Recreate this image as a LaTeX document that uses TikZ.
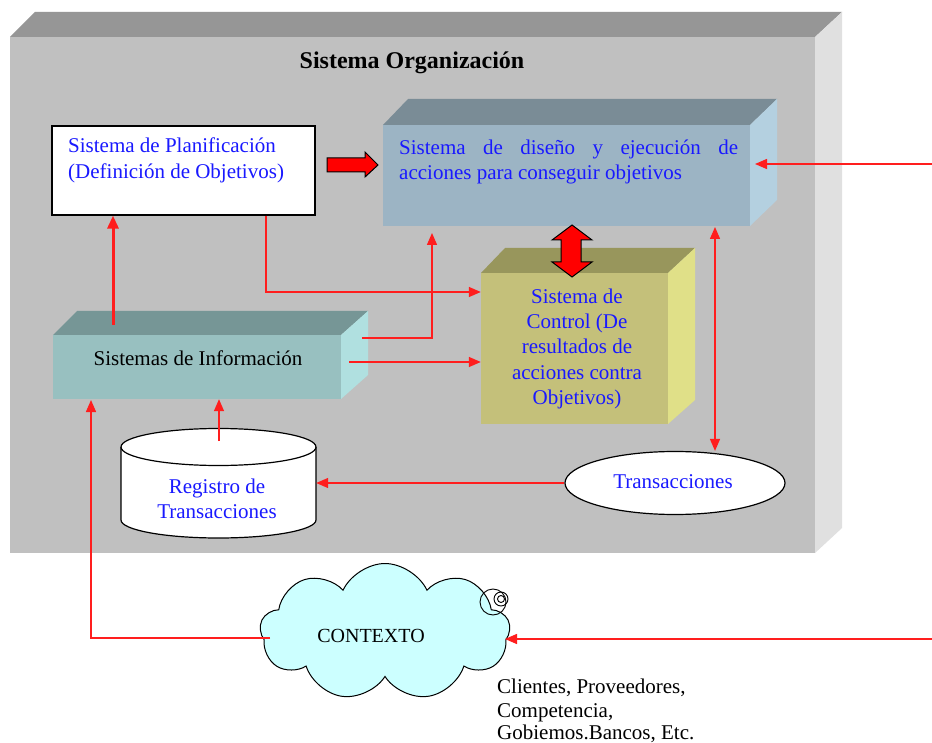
\documentclass[tikz,border=0pt]{standalone}
\usepackage{fontspec}
\setmainfont{Liberation Serif}
\usetikzlibrary{arrows.meta,shapes.symbols,shapes.geometric}
\definecolor{grayfront}{RGB}{192,192,192}
\definecolor{graytop}{RGB}{150,150,150}
\definecolor{grayside}{RGB}{224,224,224}
\definecolor{disfront}{RGB}{156,180,196}
\definecolor{distop}{RGB}{122,140,150}
\definecolor{disside}{RGB}{180,208,224}
\definecolor{ctlfront}{RGB}{196,192,122}
\definecolor{ctltop}{RGB}{152,150,92}
\definecolor{ctlside}{RGB}{224,224,136}
\definecolor{inffront}{RGB}{152,192,192}
\definecolor{inftop}{RGB}{118,150,150}
\definecolor{infside}{RGB}{176,224,224}
\definecolor{cloudc}{RGB}{204,255,255}
\definecolor{lred}{RGB}{255,30,30}
\definecolor{tblue}{RGB}{25,25,255}
\begin{document}
\begin{tikzpicture}[x=1pt,y=-1pt,
  conn/.style={draw=lred,line width=1.4pt,-{Triangle[length=12pt,width=10pt]}},
  thickconn/.style={draw=lred,line width=3pt,-{Triangle[length=13pt,width=11pt]}},
  bconn/.style={draw=lred,line width=1.4pt,{Triangle[length=12pt,width=10pt]}-{Triangle[length=12pt,width=10pt]}},
  blk/.style={fill=red,draw=black,line width=1pt,line join=miter},
  btxt/.style={text=tblue,font=\fontsize{21}{25}\selectfont,inner sep=0pt,anchor=base},
  ktxt/.style={text=black,font=\fontsize{21}{25}\selectfont,inner sep=0pt,anchor=base},
  frontface/.style={inner sep=0pt,draw=none},
]
\useasboundingbox (0,0) rectangle (932,743);
\fill[white] (0,0) rectangle (932,743);

% ---- system box
\fill[grayfront] (10,37) rectangle (815,553);
\fill[graytop] (10,37) -- (35,12) -- (842,12) -- (815,37) -- cycle;
\fill[grayside] (815,37) -- (842,12) -- (842,528) -- (815,553) -- cycle;
\node[font=\bfseries\fontsize{24}{28}\selectfont, anchor=base, inner sep=0pt] (title) at (412,69) {Sistema Organización};

% ---- planificacion
\node[draw=black, line width=1.2pt, fill=white, minimum width=263pt, minimum height=89pt, inner sep=0pt] (plan) at (183.5,170.5) {};
\node[btxt, anchor=base west] (plan1) at (68,153) {Sistema de Planificación};
\node[btxt, anchor=base west] (plan2) at (68,179) {(Definición de Objetivos)};

% ---- diseno
\fill[distop] (383,125) -- (408,99) -- (777,99) -- (750,125) -- cycle;
\fill[disside] (750,125) -- (777,99) -- (777,200) -- (750,226) -- cycle;
\node[frontface, fill=disfront, minimum width=367pt, minimum height=101pt] (dis) at (566.5,175.5) {};
\node[btxt, anchor=base west] (dis1) at (399,155) {\makebox[339pt][s]{Sistema de diseño y ejecución de}};
\node[btxt, anchor=base west] (dis2) at (399,180) {acciones para conseguir objetivos};

% ---- control
\fill[ctltop] (481,273) -- (505,248) -- (695,248) -- (668,273) -- cycle;
\fill[ctlside] (668,273) -- (695,248) -- (695,400) -- (668,424) -- cycle;
\node[frontface, fill=ctlfront, minimum width=187pt, minimum height=151pt] (ctl) at (574.5,348.5) {};
\node[btxt] (ctl1) at (577,304) {Sistema de};
\node[btxt] (ctl2) at (577,329) {Control (De};
\node[btxt] (ctl3) at (577,354) {resultados de};
\node[btxt] (ctl4) at (577,379) {acciones contra};
\node[btxt] (ctl5) at (577,404) {Objetivos)};

% ---- informacion
\fill[inftop] (53,335) -- (77,311) -- (368,311) -- (341,335) -- cycle;
\fill[infside] (341,335) -- (368,311) -- (368,375) -- (341,399) -- cycle;
\node[frontface, fill=inffront, minimum width=288pt, minimum height=64pt] (info) at (197,367) {};
\node[ktxt] (infoT) at (198,366) {Sistemas de Información};

% ---- registro (cylinder)
\fill[white] (121,447) -- (121,520) arc[start angle=180,end angle=360,x radius=97.5pt,y radius=18pt] -- (316,447) -- cycle;
\draw[line width=1.2pt] (121,447) -- (121,520) arc[start angle=180,end angle=360,x radius=97.5pt,y radius=18pt] -- (316,447);
\draw[line width=1.2pt, fill=white] (218.5,447) ellipse[x radius=97.5pt, y radius=18.5pt];
\node[frontface, minimum width=195pt, minimum height=110pt] (reg) at (218.5,483) {};
\node[btxt] (reg1) at (217,493) {Registro de};
\node[btxt] (reg2) at (217,518) {Transacciones};

% ---- transacciones
\node[ellipse, draw=black, line width=1.2pt, fill=white, minimum width=220pt, minimum height=63pt, inner sep=0pt] (trans) at (675,483) {};
\node[btxt] (transT) at (673,488) {Transacciones};

% ---- contexto
\node[cloud, cloud puffs=9, cloud puff arc=130, aspect=1.8, draw=black, line width=1pt, fill=cloudc, minimum width=250pt, minimum height=137pt, inner sep=0pt] (ctx) at (385,632) {};
\node[ktxt, font=\fontsize{20}{24}\selectfont] (ctxT) at (371,642) {CONTEXTO};
\draw[line width=0.9pt] (493,602) circle[radius=13pt];
\draw[line width=0.9pt] (501,599) circle[radius=7pt];
\draw[line width=0.9pt] (501,599) circle[radius=3.5pt];

\node[ktxt, anchor=base west] (ext1) at (497,693) {Clientes, Proveedores,};
\node[ktxt, anchor=base west] (ext2) at (497,717) {Competencia,};
\node[ktxt, anchor=base west] (ext3) at (497,739) {Gobiemos.Bancos, Etc.};

% ---- connectors
\coordinate (a1) at (113,325);
\draw[thickconn] (a1) -- (a1 |- plan.south);

\coordinate (a2) at (266,215);
\coordinate (a2e) at (481,292);
\draw[conn] (plan.south -| a2) |- (ctl.west |- a2e);

\coordinate (a3) at (362,338);
\coordinate (a3e) at (432,233);
\draw[conn] (a3) -| (a3e);

\coordinate (a4) at (349,362);
\draw[conn] (a4) -- (ctl.west |- a4);

\coordinate (a5) at (715,227);
\draw[bconn] (a5) -- (a5 |- trans.north);

\coordinate (a6) at (932,164);
\coordinate (a6e) at (755,164);
\draw[conn] (a6) -- (a6e);

\draw[conn] (trans.west) -- (reg.east);

\coordinate (a8) at (219,441);
\draw[conn] (a8) -- (a8 |- info.south);

\coordinate (a9) at (270,638);
\coordinate (a9e) at (91,400);
\draw[conn] (a9) -| (a9e);

\coordinate (a10) at (932,639);
\coordinate (a10e) at (505,639);
\draw[conn] (a10) -- (a10e);

% ---- block arrows
\draw[blk] (327,158) -- (365,158) -- (365,152) -- (378,165) -- (365,177) -- (365,172) -- (327,172) -- cycle;
\draw[blk] (572,225) -- (592,240) -- (581,240) -- (581,262) -- (592,262) -- (572,277) -- (552,262) -- (561,262) -- (561,240) -- (552,240) -- cycle;
\end{tikzpicture}
\end{document}
